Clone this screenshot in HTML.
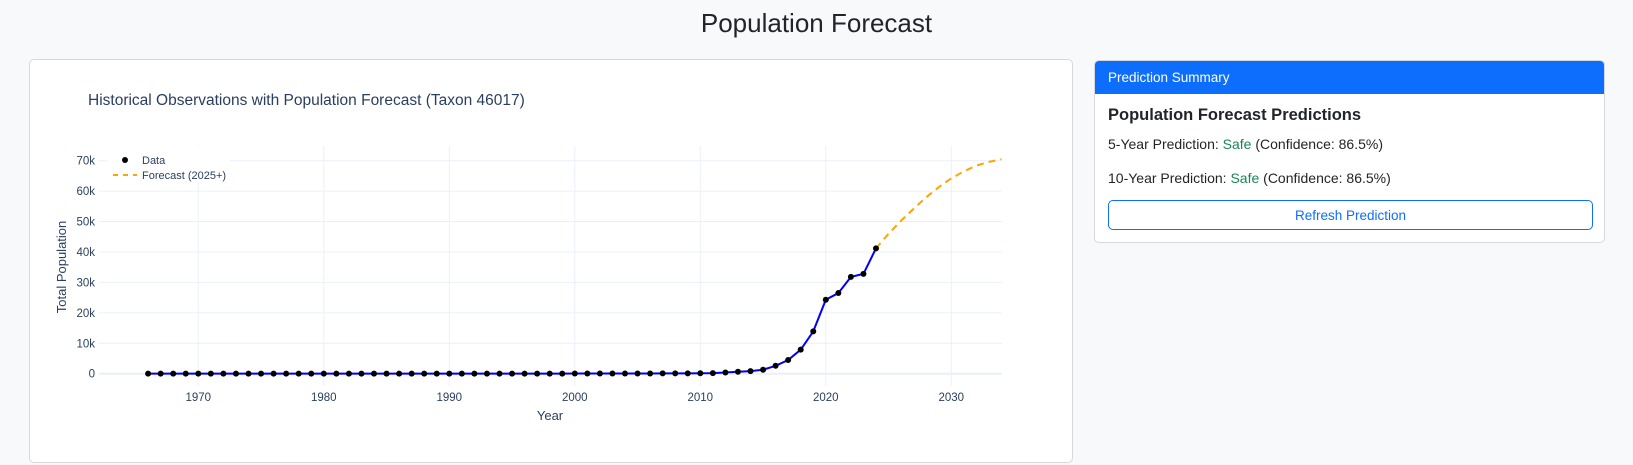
<!DOCTYPE html>
<html><head><meta charset="utf-8">
<style>
body{margin:0;width:1633px;height:465px;background:#f8f9fa;font-family:"Liberation Sans",sans-serif;overflow:hidden;position:relative;color:#212529}
.title{position:absolute;left:0;width:1633px;top:8px;text-align:center;font-size:26px;font-weight:500}
.chart-card{position:absolute;left:29px;top:59px;width:1044px;height:404px;background:#fff;border:1px solid #d6d8db;border-radius:5px;box-sizing:border-box}
.side{position:absolute;left:1094px;top:60px;width:511px;height:183px;background:#fff;border:1px solid #d6d8db;border-radius:5px;box-sizing:border-box;overflow:hidden}
.side-h{background:#0d6efd;color:#fff;height:33px;line-height:34px;padding-left:13px;font-size:13.5px}
.side h5{margin:0;position:absolute;left:13px;top:45px;font-size:16.5px;font-weight:bold}
.p{position:absolute;left:13px;font-size:14px}
.safe{color:#198754}
.btn{position:absolute;left:13px;top:139px;width:485px;height:30px;border:1px solid #0d6efd;border-radius:5px;color:#0d6efd;font-size:13.5px;line-height:30px;text-align:center;box-sizing:border-box}
</style></head><body>
<div class="title">Population Forecast</div>
<div class="chart-card"></div>
<svg id="chart" width="1633" height="465" style="position:absolute;left:0;top:0" font-family="Liberation Sans, sans-serif"></svg>
<div class="side">
<div class="side-h">Prediction Summary</div>
<h5>Population Forecast Predictions</h5>
<div class="p" style="top:75px">5-Year Prediction: <span class="safe">Safe</span> (Confidence: 86.5%)</div>
<div class="p" style="top:109px">10-Year Prediction: <span class="safe">Safe</span> (Confidence: 86.5%)</div>
<div class="btn">Refresh Prediction</div>
</div>
<script>
const years=[1966,1967,1968,1969,1970,1971,1972,1973,1974,1975,1976,1977,1978,1979,1980,1981,1982,1983,1984,1985,1986,1987,1988,1989,1990,1991,1992,1993,1994,1995,1996,1997,1998,1999,2000,2001,2002,2003,2004,2005,2006,2007,2008,2009,2010,2011,2012,2013,2014,2015,2016,2017,2018,2019,2020,2021,2022,2023,2024];
const population=[20,20,20,20,20,20,20,20,20,20,20,20,20,20,20,20,20,20,20,20,30,30,30,30,30,30,30,30,30,30,40,40,40,40,50,50,50,60,60,70,80,90,100,120,150,200,400,650,850,1300,2600,4500,7900,13900,24300,26500,31800,32800,41200];
const fcYears=[2024,2025,2026,2027,2028,2029,2030,2031,2032,2033,2034];
const fcValues=[41200,46000,50300,54200,58000,61300,64200,66500,68400,69600,70500];
const xTicks=[1970,1980,1990,2000,2010,2020,2030];
const yTicks=[0,10000,20000,30000,40000,50000,60000,70000];
const yTickLabels=["0","10k","20k","30k","40k","50k","60k","70k"];

const svg=document.getElementById('chart');
const NS='http://www.w3.org/2000/svg';
const L=99,R=1002,T=146,B=386;
const x=v=>198.3+(v-1970)*12.55;
const y=v=>373.7-v*0.003043;
function mk(tag,attrs,parent){const e=document.createElementNS(NS,tag);for(const k in attrs)e.setAttribute(k,attrs[k]);(parent||svg).appendChild(e);return e;}
const txt=(s,a)=>{const e=mk('text',a);e.textContent=s;return e;};

let t=txt('Historical Observations with Population Forecast (Taxon 46017)',{x:88,y:105,'font-size':15.5,fill:'#2a3f5f'});



xTicks.forEach(v=>{
  const g=mk('line',{x1:x(v),x2:x(v),y1:T,y2:B,stroke:'#ebf0f8','stroke-width':1});
  
  
  const l=txt(String(v),{x:x(v),y:401,'font-size':11.5,fill:'#2a3f5f','text-anchor':'middle'});
  
  
});
yTicks.forEach((v,i)=>{
  const g=mk('line',{x1:L,x2:R,y1:y(v),y2:y(v),stroke:'#ebf0f8','stroke-width':v===0?2:1});
  
  
  const l=txt(yTickLabels[i],{x:95,y:y(v)+4,'font-size':11.5,fill:'#2a3f5f','text-anchor':'end'});
  
  
});
t=txt('Year',{x:550,y:420,'font-size':13,fill:'#2a3f5f','text-anchor':'middle'});


t=txt('Total Population',{x:0,y:0,'font-size':13,fill:'#2a3f5f','text-anchor':'middle',transform:'translate(66,267) rotate(-90)'});



let fc=mk('path',{d:fcYears.map((v,i)=>(i?'L':'M')+x(v)+','+y(fcValues[i])).join(''),fill:'none',stroke:'#ffa500','stroke-width':2,'stroke-dasharray':'7,5'});


let dl=mk('path',{d:years.map((v,i)=>(i?'L':'M')+x(v)+','+y(population[i])).join(''),fill:'none',stroke:'#0000ff','stroke-width':2});


years.forEach((v,i)=>{
  const c=mk('circle',{cx:x(v),cy:y(population[i]),r:3,fill:'#000'});
  
  
});

const lg=mk('g',{});


mk('rect',{x:108,y:147,width:122,height:36,fill:'#fff'},lg);
mk('circle',{cx:125,cy:160,r:3,fill:'#000'},lg);
mk('line',{x1:113,x2:137,y1:175,y2:175,stroke:'#ffa500','stroke-width':2,'stroke-dasharray':'5,5'},lg);
let e=mk('text',{x:142,y:164,'font-size':11,fill:'#2a3f5f'},lg);e.textContent='Data';


e=mk('text',{x:142,y:179,'font-size':11,fill:'#2a3f5f'},lg);e.textContent='Forecast (2025+)';


</script>
</body></html>
